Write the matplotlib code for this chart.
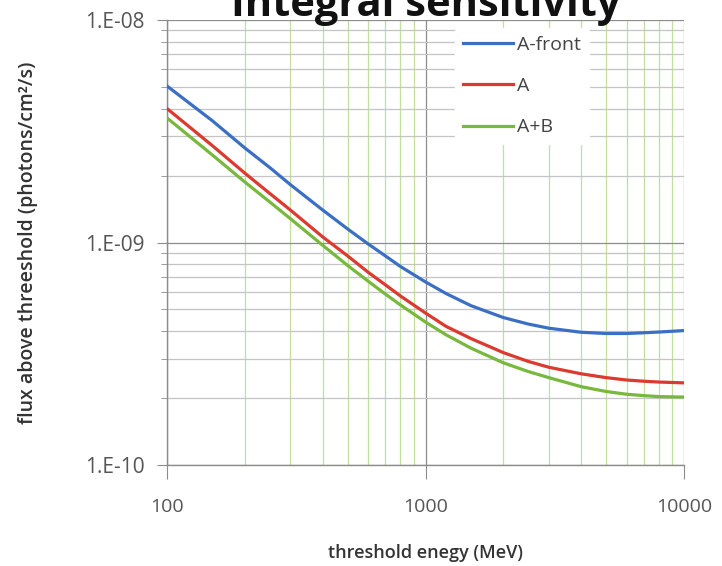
import matplotlib
matplotlib.use("Agg")
import matplotlib.pyplot as plt
from matplotlib.ticker import FixedLocator, NullFormatter

# threshold energy (MeV) and integral flux sensitivity (photons/cm^2/s)
energy = [100, 150, 200, 250, 300, 400, 500, 600, 700, 800, 1000,
          1200, 1500, 2000, 2500, 3000, 4000, 5000, 6000, 7000, 8000, 10000]
flux_front = [5.05e-9, 3.52e-9, 2.66e-9, 2.17e-9, 1.82e-9, 1.40e-9, 1.15e-9,
              9.85e-10, 8.7e-10, 7.8e-10, 6.65e-10, 5.9e-10, 5.2e-10, 4.6e-10,
              4.3e-10, 4.12e-10, 3.95e-10, 3.90e-10, 3.90e-10, 3.93e-10,
              3.96e-10, 4.02e-10]
flux_a = [4.00e-9, 2.72e-9, 2.05e-9, 1.66e-9, 1.40e-9, 1.06e-9, 8.7e-10,
          7.35e-10, 6.45e-10, 5.75e-10, 4.82e-10, 4.2e-10, 3.7e-10, 3.2e-10,
          2.92e-10, 2.75e-10, 2.57e-10, 2.47e-10, 2.41e-10, 2.38e-10,
          2.36e-10, 2.34e-10]
flux_ab = [3.63e-9, 2.47e-9, 1.87e-9, 1.52e-9, 1.28e-9, 9.72e-10, 7.88e-10,
           6.7e-10, 5.86e-10, 5.24e-10, 4.39e-10, 3.85e-10, 3.35e-10, 2.88e-10,
           2.63e-10, 2.47e-10, 2.25e-10, 2.14e-10, 2.08e-10, 2.05e-10,
           2.03e-10, 2.02e-10]

series = [("A-front", flux_front, "#3b6fc4"),
          ("A", flux_a, "#dc3a2e"),
          ("A+B", flux_ab, "#78b83c")]

y_ticks = [1e-10, 1e-9, 1e-8]
y_labels = ["1.E-10", "1.E-09", "1.E-08"]
x_ticks = [100, 1000, 10000]
x_labels = ["100", "1000", "10000"]

plt.rcParams["font.family"] = ["Open Sans", "DejaVu Sans"]

fig = plt.figure(figsize=(7.22, 5.66), dpi=100)
ax = fig.add_axes([0.2313, 0.1784, 0.7161, 0.7863])

for name, vals, col in series:
    ax.plot(energy, vals, color=col, lw=2.3, label=name, zorder=3)

ax.set_xscale("log")
ax.set_yscale("log")
ax.set_xlim(100, 10000)
ax.set_ylim(1e-10, 1e-8)

ax.xaxis.set_major_locator(FixedLocator(x_ticks))
ax.xaxis.set_minor_locator(FixedLocator(
    [m * 10 ** e for e in (2, 3) for m in range(2, 10)]))
ax.yaxis.set_major_locator(FixedLocator(y_ticks))
ax.yaxis.set_minor_locator(FixedLocator(
    [m * 10.0 ** e for e in (-10, -9) for m in range(2, 10)]))
ax.set_xticklabels(x_labels)
ax.set_yticklabels(y_labels)
ax.xaxis.set_minor_formatter(NullFormatter())
ax.yaxis.set_minor_formatter(NullFormatter())

ax.grid(which="major", axis="both", color="#8c8c8c", lw=0.9)
ax.grid(which="minor", axis="y", color="#c4c4c4", lw=0.9)
ax.grid(which="minor", axis="x", color="#bfe09f", lw=0.9)
ax.set_axisbelow(True)

for side in ("top", "right"):
    ax.spines[side].set_visible(False)
for side in ("left", "bottom"):
    ax.spines[side].set_color("#8c8c8c")
    ax.spines[side].set_linewidth(1.0)

ax.tick_params(axis="y", which="major", length=7, color="#8c8c8c",
               labelsize=15, labelcolor="#555555", pad=9)
ax.tick_params(axis="y", which="minor", length=4, color="#8c8c8c")
ax.tick_params(axis="x", which="major", length=10, color="#8c8c8c",
               labelsize=14, labelcolor="#555555", pad=14)
ax.tick_params(axis="x", which="minor", length=0)

ax.set_xlabel("threshold enegy (MeV)", fontsize=13, color="#333333",
              fontweight="semibold", labelpad=20)
ax.set_ylabel("flux above threeshold (photons/cm\u00b2/s)", fontsize=14,
              color="#333333", fontweight="semibold", labelpad=34)

leg = ax.legend(loc="upper left", bbox_to_anchor=(0.557, 0.982),
                frameon=True, fontsize=14, handlelength=2.6,
                handletextpad=0.2, labelspacing=1.2, borderaxespad=0)
leg.get_frame().set_edgecolor("white")
leg.get_frame().set_facecolor("white")
leg.get_frame().set_alpha(1.0)
for t in leg.get_texts():
    t.set_color("#444444")

fig.text(0.59, 0.972, "Integral sensitivity", ha="center", va="baseline",
         fontsize=30, fontweight="bold", color="#111111")

fig.savefig("out.png", dpi=100, facecolor="white")
